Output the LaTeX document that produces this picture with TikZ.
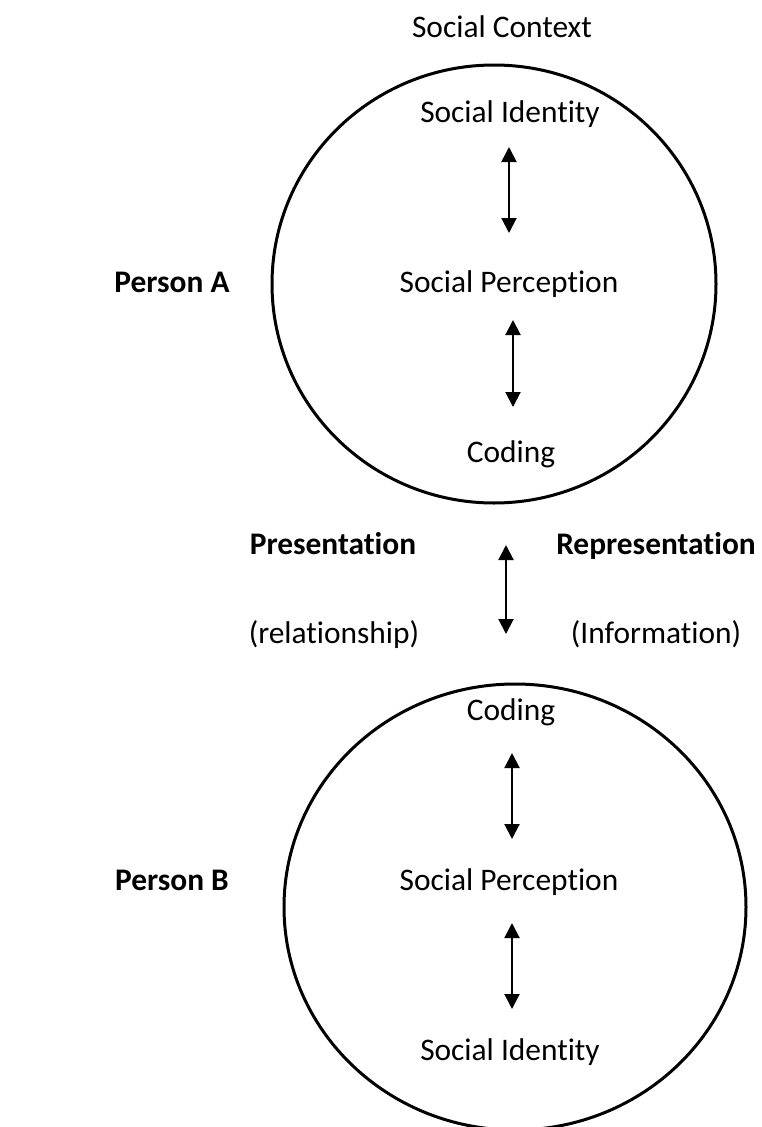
\documentclass[tikz,border=0pt]{standalone}
\usepackage{fontspec}
\setmainfont{Carlito}[Ligatures={NoCommon,NoContextual}]
\usetikzlibrary{arrows.meta}
\tikzset{
  txt/.style={anchor=base, inner sep=0pt, font=\fontsize{31.4}{37}\selectfont},
  btxt/.style={txt, font=\fontsize{31.4}{37}\selectfont\bfseries},
  ring/.style={line width=3pt},
  link/.style={line width=2pt, {Triangle[width=15pt,length=15pt]}-{Triangle[width=15pt,length=15pt]}}
}
\begin{document}
\begin{tikzpicture}[x=1pt,y=-1pt]
\useasboundingbox (0,0) rectangle (762,1127);
% circles
\draw[ring] (494,284) ellipse [x radius=222pt, y radius=219pt];
\draw[ring] (515,907) ellipse [x radius=231pt, y radius=223pt];
% texts
\node[txt] (ctx) at (502,37) {Social Context};
\node[txt] (idA) at (510,122) {Social Identity};
\node[txt] (spA) at (509,292) {Social Perception};
\node[txt] (coA) at (511,462) {Coding};
\node[btxt] (pA) at (172,292) {Person A};
\node[btxt] (pres) at (333,554) {Presentation};
\node[btxt] (repr) at (656,554) {Representation};
\node[txt] (rel) at (334,643) {(relationship)};
\node[txt] (inf) at (656,643) {(Information)};
\node[txt] (coB) at (511,720) {Coding};
\node[txt] (spB) at (509,890) {Social Perception};
\node[txt] (idB) at (510,1060) {Social Identity};
\node[btxt] (pB) at (172,890) {Person B};
% arrow end points
\coordinate (a1t) at (509,147); \coordinate (a1b) at (509,233);
\coordinate (a2t) at (513,320); \coordinate (a2b) at (513,407);
\coordinate (mt) at (506,545); \coordinate (mb) at (506,634);
\coordinate (b1t) at (512,753); \coordinate (b1b) at (512,839);
\coordinate (b2t) at (512,923); \coordinate (b2b) at (512,1009);
\draw[link] (a1t) -- (a1b);
\draw[link] (a2t) -- (a2b);
\draw[link] (mt) -- (mb);
\draw[link] (b1t) -- (b1b);
\draw[link] (b2t) -- (b2b);
\end{tikzpicture}
\end{document}
